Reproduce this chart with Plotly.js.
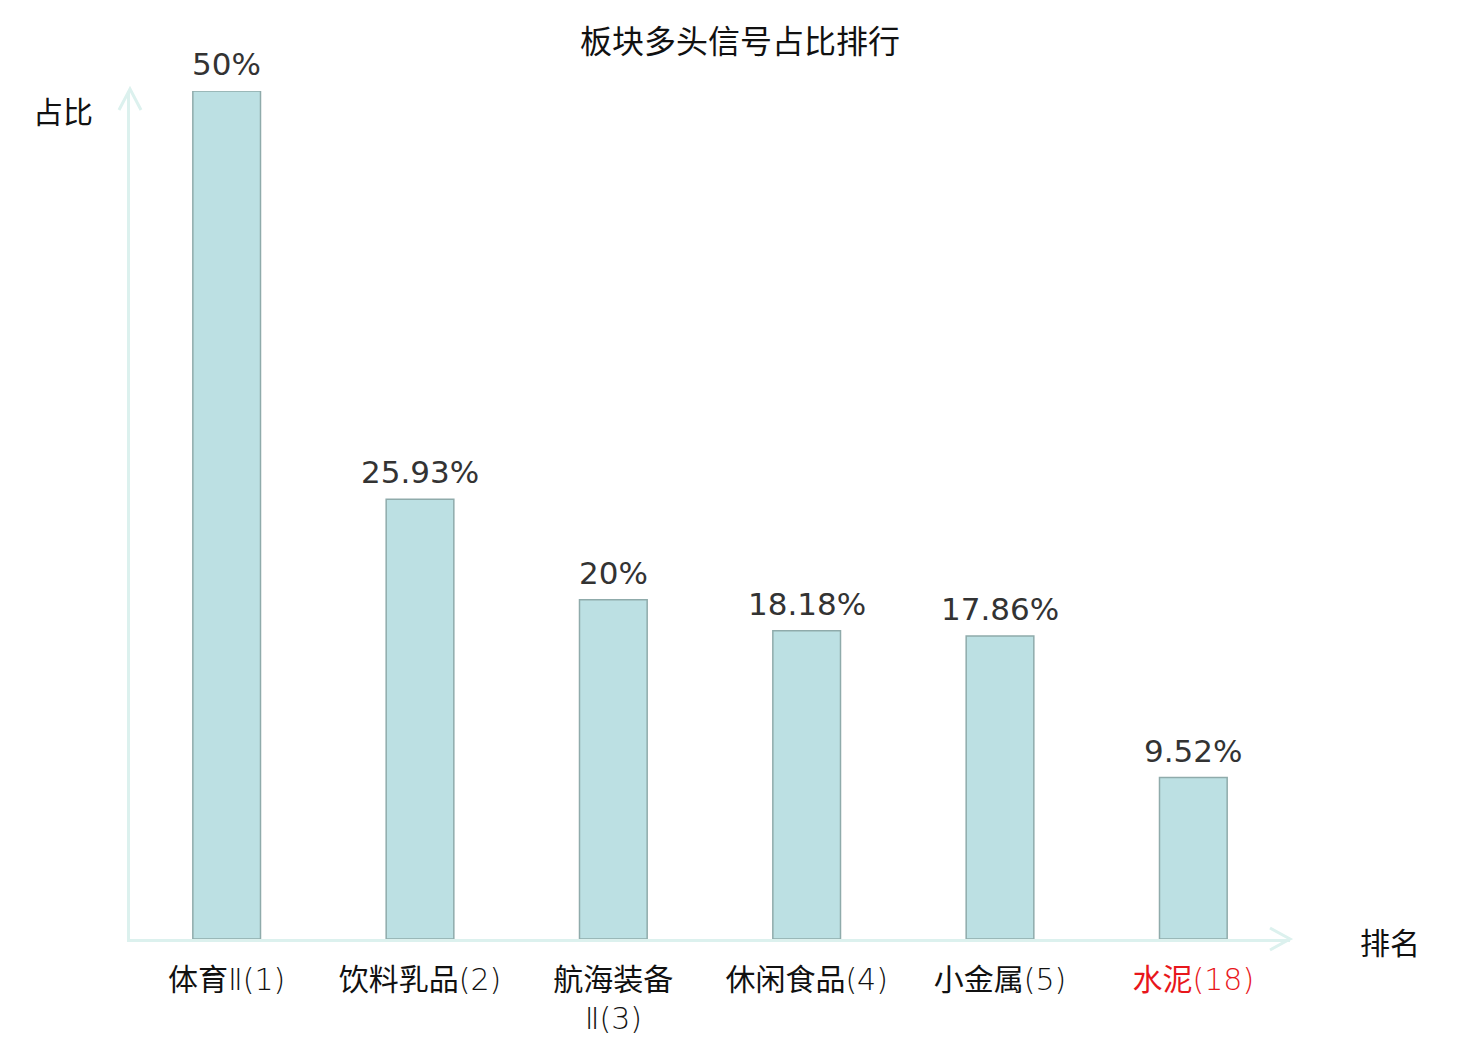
<!DOCTYPE html>
<html>
<head>
<meta charset="utf-8">
<script src="https://cdn.plot.ly/plotly-3.0.1.min.js"></script>
<style>
  html,body{margin:0;padding:0;background:#fff;}
  #chart{width:1480px;height:1040px;}
</style>
</head>
<body>
<div id="chart"></div>
<script>
// 板块多头信号占比排行
const SECTORS = ['体育Ⅱ(1)', '饮料乳品(2)', '航海装备<br>Ⅱ(3)', '休闲食品(4)', '小金属(5)', '水泥(18)'];
const RATIO = [50, 25.93, 20, 18.18, 17.86, 9.52];
const RATIO_TEXT = ['50%', '25.93%', '20%', '18.18%', '17.86%', '9.52%'];
const HIGHLIGHT = [false, false, false, false, false, true];

const AXIS_C = '#dcf1ee';
const CJK = '"Noto Sans CJK SC", "Noto Sans", sans-serif';

// rank numbers / roman numerals are drawn thin, the Chinese part regular
const tickText = SECTORS.map((s,i) => {
  let t = s.replace(/([()\dⅡ]+)/g, '<span style="font-weight:200">$1</span>');
  return HIGHLIGHT[i] ? `<span style="color:#e8161b">${t}</span>` : t;
});

const trace = {
  type:'bar', x: SECTORS, y: RATIO,
  width: 0.35,
  marker:{color:'#bce0e3', line:{color:'#8fabab', width:1.5}},
  hoverinfo:'skip'
};

// value labels above bars
const labels = SECTORS.map((s,i) => ({
  x: s, y: RATIO[i], xref:'x', yref:'y', text: RATIO_TEXT[i],
  showarrow:false, yanchor:'bottom', yshift:7,
  font:{family:'DejaVu Sans, sans-serif', size:31, color:'#333'}
}));

const annotations = labels.concat([
  {xref:'paper', yref:'paper', x:-0.058, y:0.978, text:'占比', showarrow:false,
   xanchor:'center', yanchor:'middle', font:{family:CJK, size:30, color:'#111'}},
  {xref:'paper', yref:'paper', x:1.086, y:-0.002, text:'排名', showarrow:false,
   xanchor:'center', yanchor:'middle', font:{family:CJK, size:30, color:'#111'}}
]);

// arrow heads on the axis ends
const shapes = [
  {type:'path', xref:'paper', yref:'paper', xsizemode:'pixel', ysizemode:'pixel',
   xanchor:0, yanchor:1, path:'M-11,-19 L0,2 L11,-19', line:{color:AXIS_C, width:3}},
  {type:'path', xref:'paper', yref:'paper', xsizemode:'pixel', ysizemode:'pixel',
   xanchor:1, yanchor:0, path:'M-20,11 L0,0 L-20,-11', line:{color:AXIS_C, width:3}}
];

const layout = {
  width:1480, height:1040,
  paper_bgcolor:'#fff', plot_bgcolor:'#fff',
  margin:{l:130, r:190, t:91, b:101},
  showlegend:false,
  title:{text:'板块多头信号占比排行', x:0.5, xref:'container', y:1-42/1040, yref:'container', yanchor:'middle',
         font:{family:CJK, size:32, color:'#111'}},
  xaxis:{
    type:'category', range:[-0.5, 5.5], tickvals: SECTORS, ticktext: tickText,
    showline:true, linecolor:AXIS_C, linewidth:3, showgrid:false, zeroline:false,
    ticks:'outside', ticklen:12, tickcolor:'rgba(0,0,0,0)',
    tickfont:{family:'"DejaVu Sans", "Noto Sans CJK SC", sans-serif', size:30, color:'#111'},
    fixedrange:true
  },
  yaxis:{
    range:[0, 50], showline:true, linecolor:AXIS_C, linewidth:3, showgrid:false,
    zeroline:false, showticklabels:false, ticks:'', fixedrange:true
  },
  annotations, shapes
};

Plotly.newPlot('chart', [trace], layout, {displayModeBar:false, staticPlot:true});
</script>
</body>
</html>
